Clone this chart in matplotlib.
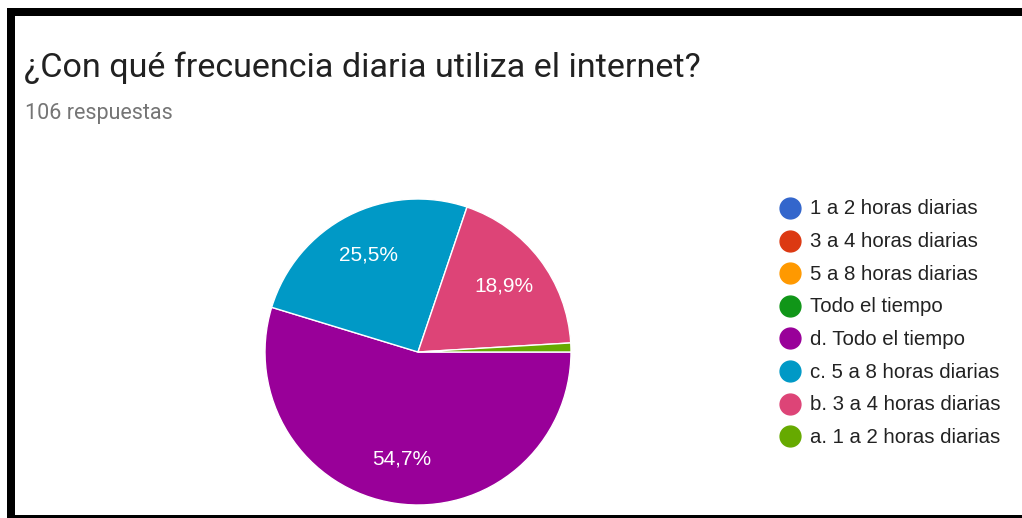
import matplotlib
matplotlib.use("Agg")
import matplotlib.pyplot as plt
from matplotlib.patches import Rectangle

W, H = 1022, 518

title = "¿Con qué frecuencia diaria utiliza el internet?"
subtitle = "106 respuestas"

legend_labels = [
    "1 a 2 horas diarias",
    "3 a 4 horas diarias",
    "5 a 8 horas diarias",
    "Todo el tiempo",
    "d. Todo el tiempo",
    "c. 5 a 8 horas diarias",
    "b. 3 a 4 horas diarias",
    "a. 1 a 2 horas diarias",
]
legend_colors = ["#3366CC", "#DC3912", "#FF9900", "#109618",
                 "#990099", "#0099C6", "#DD4477", "#66AA00"]
# responses per option (first four options received none)
counts = [0, 0, 0, 0, 58, 27, 20, 1]

fig = plt.figure(figsize=(W / 100, H / 100), dpi=100)
fig.patch.set_facecolor("white")

# overlay axes in pixel coordinates (y downward)
ov = fig.add_axes([0, 0, 1, 1])
ov.set_xlim(0, W)
ov.set_ylim(H, 0)
ov.axis("off")

# frame bars
ov.add_patch(Rectangle((7, 8), W - 7, 8, color="black", lw=0))
ov.add_patch(Rectangle((7, 8), 8, H - 8, color="black", lw=0))
ov.add_patch(Rectangle((7, 515), W - 7, 3, color="black", lw=0))

ov.text(24, 68, title, fontsize=24.6, family="Roboto", color="#212121",
        va="center", ha="left")
ov.text(25, 113, subtitle, fontsize=15.5, family="Roboto", color="#757575",
        va="center", ha="left")

# pie
cx, cy, r = 418, 352, 153
pax = fig.add_axes([(cx - r) / W, (H - cy - r) / H, 2 * r / W, 2 * r / H])

nz = [(v, c) for v, c in zip(counts, legend_colors) if v > 0]
vals = [v for v, _ in nz]
cols = [c for _, c in nz]


def fmt(p):
    return ("%.1f%%" % p).replace(".", ",") if p >= 5 else ""


wedges, texts, autotexts = pax.pie(
    vals, colors=cols, startangle=0, counterclock=False, radius=1,
    autopct=fmt, pctdistance=0.71,
    wedgeprops=dict(edgecolor="white", linewidth=1),
    textprops=dict(color="white", fontsize=15, family="Liberation Sans"))
pax.set_xlim(-1, 1)
pax.set_ylim(-1, 1)
pax.axis("off")

# legend
y0, dy = 208, 32.6
for i, (lab, col) in enumerate(zip(legend_labels, legend_colors)):
    y = y0 + i * dy
    ov.plot(790, y, "o", ms=15, color=col, mec=col)
    ov.text(810, y + 1, lab, fontsize=14.7, family="Liberation Sans",
            color="#222222", va="center", ha="left")

fig.savefig("out.png", dpi=100, facecolor="white")
